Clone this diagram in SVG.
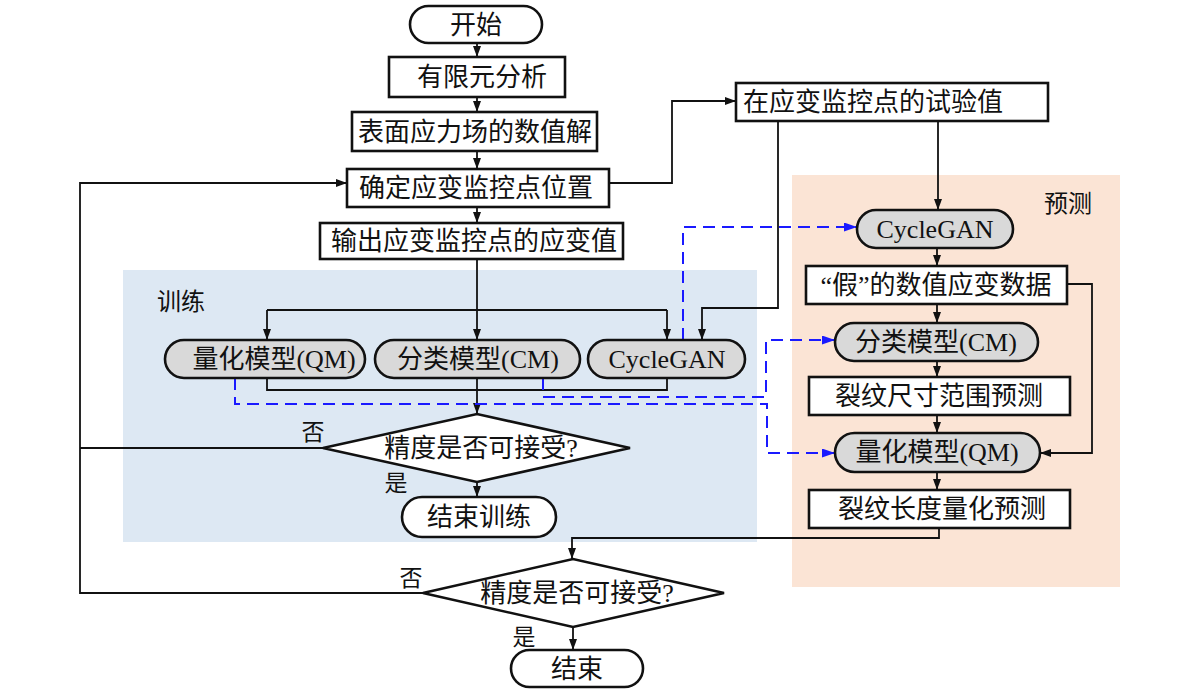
<svg xmlns="http://www.w3.org/2000/svg" width="1200" height="696" viewBox="0 0 1200 696">
<style>
.box{fill:#fff;stroke:#111;stroke-width:2.6}
.term{fill:#fff;stroke:#111;stroke-width:2.6}
.model{fill:#d9d9d9;stroke:#111;stroke-width:2.6}
.t{font-family:"Liberation Serif","Noto Sans CJK SC",serif;font-size:26px;fill:#111;text-anchor:middle}
.lbl{font-family:"Liberation Serif","Noto Sans CJK SC",serif;font-size:23px;fill:#111;text-anchor:middle}
.c{fill:none;stroke:#111;stroke-width:1.8}
.d{fill:none;stroke:#1a1aff;stroke-width:2;stroke-dasharray:12 7}
</style>
<defs>
<marker id="ah" markerUnits="userSpaceOnUse" markerWidth="12" markerHeight="10" refX="11" refY="4" orient="auto"><path d="M0,0 L11,4 L0,8 z" fill="#111"/></marker>
<marker id="ab" markerUnits="userSpaceOnUse" markerWidth="14" markerHeight="10" refX="13" refY="4.5" orient="auto"><path d="M0,0 L13,4.5 L0,9 z" fill="#1a1aff"/></marker>
</defs>
<rect x="0" y="0" width="1200" height="696" fill="#fff"/>
<g id="bg-train"><rect x="123" y="270" width="634" height="272" fill="#dde8f3"/><text class="lbl" x="181" y="310" style="font-size:24px">训练</text></g>
<g id="bg-predict"><rect x="792" y="175" width="328" height="412" fill="#fbe4d5"/><text class="lbl" x="1068" y="212" style="font-size:24px">预测</text></g>

<g id="connectors">
<path class="c" d="M477,43 V57" marker-end="url(#ah)"/>
<path class="c" d="M477,97 V112" marker-end="url(#ah)"/>
<path class="c" d="M477,151 V169" marker-end="url(#ah)"/>
<path class="c" d="M477,207 V223" marker-end="url(#ah)"/>
<path class="c" d="M609,183 H672 V101 H736" marker-end="url(#ah)"/>
<path class="c" d="M477,259 V340" marker-end="url(#ah)"/>
<path class="c" d="M267,310 H667"/>
<path class="c" d="M267,310 V340" marker-end="url(#ah)"/>
<path class="c" d="M667,310 V340" marker-end="url(#ah)"/>
<path class="c" d="M778,121 V308 H702 V340" marker-end="url(#ah)"/>
<path class="c" d="M938,121 V210" marker-end="url(#ah)"/>
<path class="c" d="M267,378 V390 H667 V378"/>
<path class="c" d="M477,378 V414" marker-end="url(#ah)"/>
<path class="c" d="M477,482 V497" marker-end="url(#ah)"/>
<path class="c" d="M323,448 H80"/>
<path class="c" d="M423,593 H80 V183 H347" marker-end="url(#ah)"/>
<path class="c" d="M937,248 V266" marker-end="url(#ah)"/>
<path class="c" d="M937,304 V323" marker-end="url(#ah)"/>
<path class="c" d="M937,361 V377" marker-end="url(#ah)"/>
<path class="c" d="M937,415 V433" marker-end="url(#ah)"/>
<path class="c" d="M937,472 V490" marker-end="url(#ah)"/>
<path class="c" d="M1067,284 H1092 V453 H1040" marker-end="url(#ah)"/>
<path class="c" d="M939,528 V538 H572 V559" marker-end="url(#ah)"/>
<path class="c" d="M573,627 V650" marker-end="url(#ah)"/>
<path class="d" d="M235,378 V404 H767 V453 H835" marker-end="url(#ab)"/>
<path class="d" d="M543,378 V397 H766 V340 H835" marker-end="url(#ab)"/>
<path class="d" d="M683,340 V227 H857" marker-end="url(#ab)"/>
</g>

<g id="start"><rect class="term" x="410" y="6" width="132" height="37" rx="18.5"/><text class="t" x="476" y="34">开始</text></g>
<g id="fea"><rect class="box" x="389" y="57" width="176" height="40"/><text class="t" x="482" y="86">有限元分析</text></g>
<g id="stress"><rect class="box" x="352" y="112" width="245" height="39"/><text class="t" x="475" y="141">表面应力场的数值解</text></g>
<g id="locate"><rect class="box" x="347" y="169" width="262" height="38"/><text class="t" x="476" y="197">确定应变监控点位置</text></g>
<g id="output"><rect class="box" x="320" y="223" width="303" height="36"/><text class="t" x="474" y="250">输出应变监控点的应变值</text></g>
<g id="testval"><rect class="box" x="736" y="83" width="312" height="38"/><text class="t" x="873" y="111">在应变监控点的试验值</text></g>

<g id="qm-train"><rect class="model" x="165" y="340" width="200" height="38" rx="19"/><text class="t" x="274" y="368">量化模型(QM)</text></g>
<g id="cm-train"><rect class="model" x="375" y="340" width="205" height="38" rx="19"/><text class="t" x="478" y="368">分类模型(CM)</text></g>
<g id="gan-train"><rect class="model" x="588" y="340" width="157" height="38" rx="19"/><text class="t" x="667" y="368">CycleGAN</text></g>
<g id="acc-train"><polygon class="box" points="323,448 477,414 630,448 477,482"/><text class="t" x="481" y="457">精度是否可接受?</text></g>
<g id="end-train"><rect class="term" x="402" y="497" width="154" height="40" rx="20"/><text class="t" x="479" y="526">结束训练</text></g>
<text class="lbl" x="313" y="440">否</text>
<text class="lbl" x="396" y="491">是</text>

<g id="gan-pred"><rect class="model" x="857" y="210" width="156" height="38" rx="19"/><text class="t" x="935" y="238">CycleGAN</text></g>
<g id="fake"><rect class="box" x="806" y="266" width="261" height="38"/><text class="t" x="936" y="294">“假”的数值应变数据</text></g>
<g id="cm-pred"><rect class="model" x="835" y="323" width="203" height="38" rx="19"/><text class="t" x="936" y="351">分类模型(CM)</text></g>
<g id="range"><rect class="box" x="809" y="377" width="261" height="38"/><text class="t" x="939" y="405">裂纹尺寸范围预测</text></g>
<g id="qm-pred"><rect class="model" x="835" y="433" width="205" height="39" rx="19.5"/><text class="t" x="937" y="461">量化模型(QM)</text></g>
<g id="length"><rect class="box" x="809" y="490" width="261" height="38"/><text class="t" x="942" y="518">裂纹长度量化预测</text></g>

<g id="acc-final"><polygon class="box" points="423,593 573,559 724,593 573,627"/><text class="t" x="577" y="602">精度是否可接受?</text></g>
<g id="end"><rect class="term" x="511" y="650" width="132" height="37" rx="18.5"/><text class="t" x="577" y="678">结束</text></g>
<text class="lbl" x="411" y="586">否</text>
<text class="lbl" x="524" y="645">是</text>
</svg>
